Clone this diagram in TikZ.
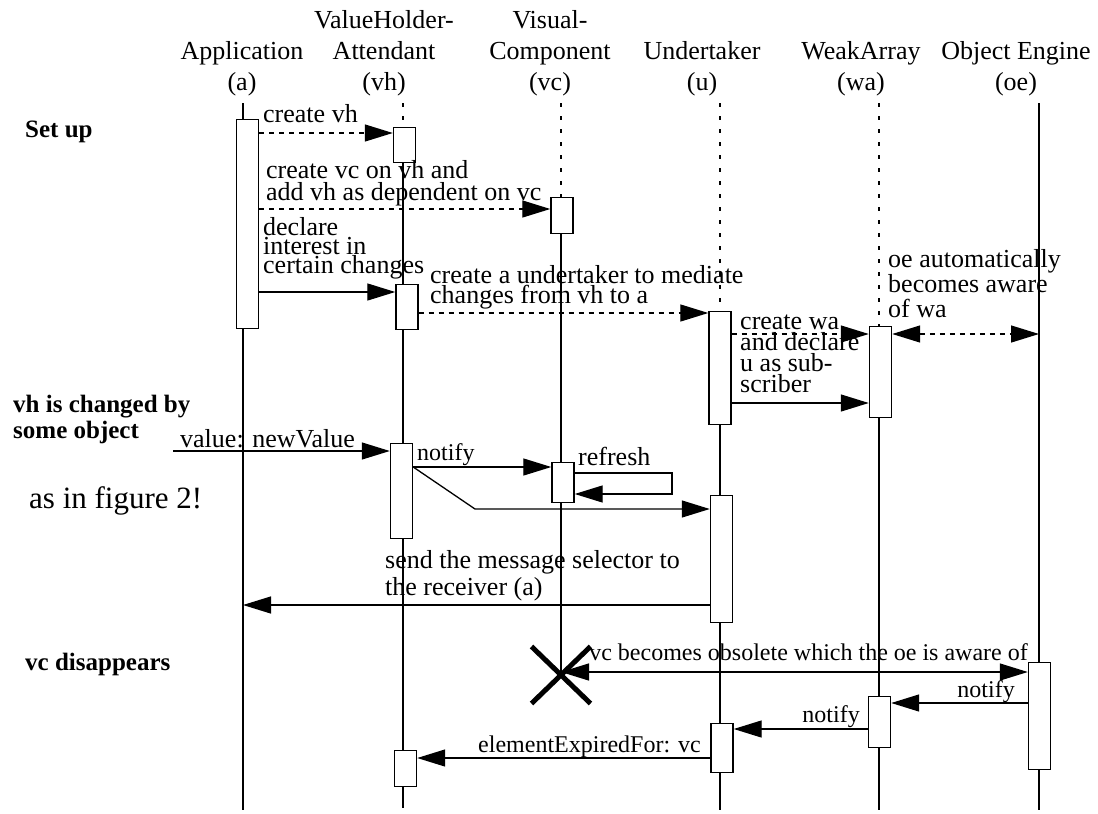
\documentclass[tikz,border=0pt]{standalone}
\usepackage{fontspec}
\setmainfont{Liberation Serif}
\usetikzlibrary{arrows.meta,shapes.misc}
\tikzset{
  headlbl/.style={align=center,inner sep=0pt,anchor=south,
    font=\fontsize{26}{31}\selectfont},
  actbox/.style={rectangle,draw=black,fill=white,line width=1.4pt,
    minimum width=22pt,inner sep=0pt,anchor=north},
  msglbl/.style={inner sep=0pt,align=left,anchor=base west,
    font=\fontsize{26}{21}\selectfont},
  notelbl/.style={inner sep=0pt,anchor=base east,
    font=\fontsize{24}{24}\selectfont},
  phaselbl/.style={inner sep=0pt,align=left,anchor=base west,
    font=\fontsize{25}{26}\selectfont\bfseries},
  lifeline/.style={line width=1.3pt},
  idleline/.style={line width=1.3pt,dash pattern=on 4pt off 9pt},
  arrow/.style={-{Triangle[length=28pt,width=17pt]},line width=1.3pt},
  darrow/.style={arrow,dash pattern=on 5pt off 5pt},
  dbarrow/.style={{Triangle[length=28pt,width=17pt]}-{Triangle[length=28pt,width=17pt]},
    line width=1.3pt},
  killmark/.style={cross out,draw=black,line width=5pt,
    minimum width=54pt,minimum height=52pt,inner sep=0pt},
}

\begin{document}
\begin{tikzpicture}[x=1pt,y=-1pt]
  \useasboundingbox (0,0) rectangle (1098,814);
  % objects
  \node[headlbl] (hda)  at (242,96)  {Application\\(a)};
  \node[headlbl] (hdvh) at (384,96)  {ValueHolder-\\Attendant\\(vh)};
  \node[headlbl] (hdvc) at (550,96)  {Visual-\\Component\\(vc)};
  \node[headlbl] (hdu)  at (702,96)  {Undertaker\\(u)};
  \node[headlbl] (hdwa) at (861,96)  {WeakArray\\(wa)};
  \node[headlbl] (hdoe) at (1016,96) {Object Engine\\(oe)};

  % lifelines
  \draw[lifeline] (243,103) -- (243,810);
  \draw[idleline] (403,103) -- (403,127);
  \draw[lifeline] (403,162) -- (403,808);
  \draw[idleline] (561,103) -- (561,197);
  \draw[lifeline] (561,233) -- (561,675);
  \draw[idleline] (720,103) -- (720,311);
  \draw[lifeline] (720,424) -- (720,810);
  \draw[idleline] (879,103) -- (879,326);
  \draw[lifeline] (879,417) -- (879,810);
  \draw[lifeline] (1039,103) -- (1039,810);

  % activations
  \node[actbox,minimum height=209pt] (abox)   at (247.5,119) {};
  \node[actbox,minimum height=35pt]  (vhbox1) at (404.5,127) {};
  \node[actbox,minimum height=36pt]  (vcbox1) at (562,197)   {};
  \node[actbox,minimum height=45pt]  (vhbox2) at (407,284)   {};
  \node[actbox,minimum height=113pt] (ubox1)  at (720,311)   {};
  \node[actbox,minimum height=91pt]  (wabox1) at (880.5,326) {};
  \node[actbox,minimum height=95pt]  (vhbox3) at (401.5,443) {};
  \node[actbox,minimum height=40pt]  (vcbox2) at (563,462)   {};
  \node[actbox,minimum height=127pt] (ubox2)  at (721.5,495) {};
  \node[actbox,minimum height=107pt] (oebox)  at (1039.5,662) {};
  \node[actbox,minimum height=51pt]  (wabox2) at (879.5,696) {};
  \node[actbox,minimum height=49pt]  (ubox3)  at (722,723)   {};
  \node[actbox,minimum height=36pt]  (vhbox4) at (405.5,750) {};
  \node[killmark] (vcend) at (561,675) {};

  \coordinate (oeaware) at (1039,334);
  \coordinate (newval)  at (173,451);
  \coordinate (arecv)   at (243,605);

  % set up
  \draw[darrow] (abox.east |- 0,133) -- (vhbox1.west |- 0,133);
  \draw[darrow] (abox.east |- 0,209) -- (vcbox1.west |- 0,209);
  \draw[arrow]  (abox.east |- 0,292) -- (vhbox2.west |- 0,292);
  \draw[darrow] (vhbox2.east |- 0,313) -- (ubox1.west |- 0,313);
  \draw[darrow] (ubox1.east |- 0,334) -- (wabox1.west |- 0,334);
  \draw[arrow]  (ubox1.east |- 0,403) -- (wabox1.west |- 0,403);
  \draw[dbarrow,dash pattern=on 5pt off 5pt] (wabox1.east |- 0,334) -- (oeaware);

  % change of vh
  \draw[arrow] (newval) -- (vhbox3.west |- 0,451);
  \draw[arrow] (vhbox3.east |- 0,467) -- (vcbox2.west |- 0,467);
  \draw[arrow] (vcbox2.east |- 0,473) -- (672,473) -- (672,494) -- (vcbox2.east |- 0,494);
  \draw[arrow] (vhbox3.east |- 0,467) -- (475,509) -- (ubox2.west |- 0,509);
  \draw[arrow] (ubox2.west |- 0,605) -- (arecv);

  % vc disappears
  \draw[dbarrow] (vcend.center |- 0,672) -- (oebox.west |- 0,672);
  \draw[arrow] (oebox.west |- 0,703) -- (wabox2.east |- 0,703);
  \draw[arrow] (wabox2.west |- 0,729) -- (ubox3.east |- 0,729);
  \draw[arrow] (ubox3.west |- 0,758) -- (vhbox4.east |- 0,758);

  % labels
  \node[msglbl] (lcvh) at (263,122) {create vh};
  \node[msglbl,font=\fontsize{26}{22}\selectfont] (lcvc) at (266,200)
    {create vc on vh and\\add vh as dependent on vc};
  \node[msglbl,font=\fontsize{26}{19}\selectfont] (ldecl) at (263,273)
    {declare\\interest in\\certain changes};
  \node[msglbl,font=\fontsize{26}{18}\selectfont] (lcu) at (430,303)
    {create a undertaker to mediate\\changes from vh to a};
  \node[msglbl] (lcwa) at (740,392) {create wa\\and declare\\u as sub-\\scriber};
  \node[msglbl,font=\fontsize{26}{25}\selectfont] (loe) at (888,317)
    {oe automatically\\becomes aware\\of wa};
  \node[msglbl] (lval) at (180,447) {value: newValue};
  \node[msglbl,font=\fontsize{24}{24}\selectfont] (lnot1) at (417,460) {notify};
  \node[msglbl] (lref) at (578,465) {refresh};
  \node[msglbl,font=\fontsize{26}{27}\selectfont] (lsend) at (385,595)
    {send the message selector to\\the receiver (a)};
  \node[notelbl] (lobs)  at (1028,660) {vc becomes obsolete which the oe is aware of};
  \node[notelbl] (lnot2) at (1015,697) {notify};
  \node[notelbl] (lnot3) at (860,722)  {notify};
  \node[notelbl] (lexp)  at (701,752)  {elementExpiredFor: vc};

  \node[phaselbl] (psetup) at (25,137) {Set up};
  \node[phaselbl] (pchange) at (13,438) {vh is changed by\\some object};
  \node[msglbl,font=\fontsize{31}{31}\selectfont] (pfig) at (29,508) {as in figure 2!};
  \node[phaselbl] (pgone) at (25,670) {vc disappears};
\end{tikzpicture}
\end{document}
